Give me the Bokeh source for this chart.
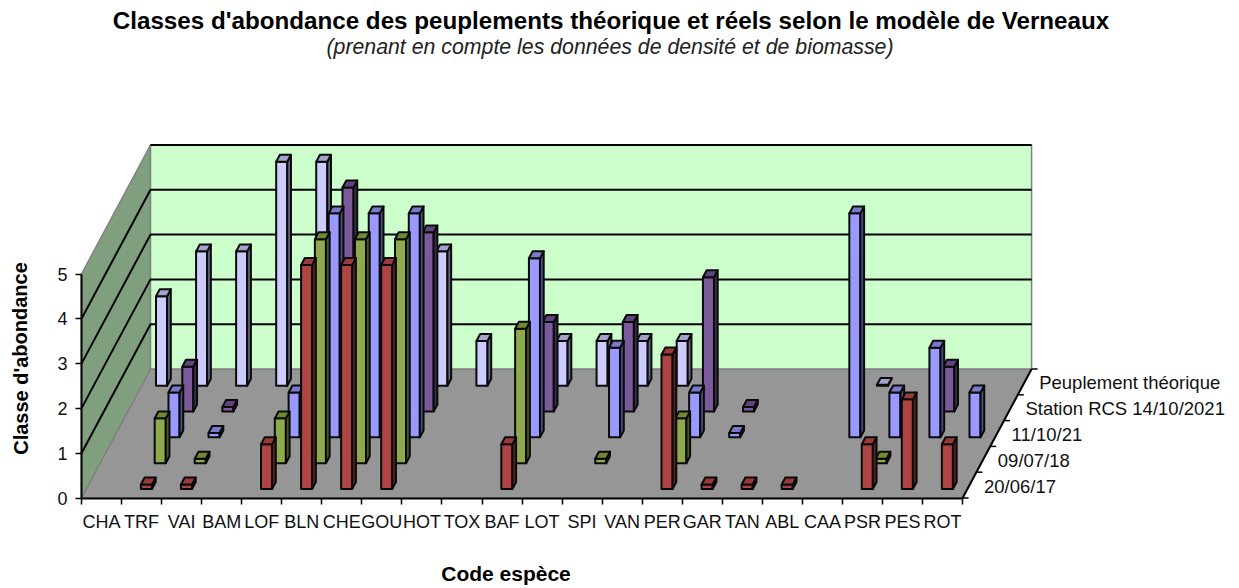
from bokeh.plotting import figure
from bokeh.models import Range1d, LinearAxis, FixedTicker, ColumnDataSource
from bokeh.embed import file_html
from bokeh.resources import INLINE
from bokeh.core.properties import value

title_text = "Classes d'abondance des peuplements théorique et réels selon le modèle de Verneaux"
subtitle_text = "(prenant en compte les données de densité et de biomasse)"
y_title = "Classe d'abondance"
x_title = "Code espèce"

categories = ["CHA", "TRF", "VAI", "BAM", "LOF", "BLN", "CHE", "GOU", "HOT", "TOX", "BAF",
              "LOT", "SPI", "VAN", "PER", "GAR", "TAN", "ABL", "CAA", "PSR", "PES", "ROT"]
series_names = ["20/06/17", "09/07/18", "11/10/21", "Station RCS 14/10/2021", "Peuplement théorique"]

s_20_06_17 = {"TRF": 0.1, "VAI": 0.1, "LOF": 1, "BLN": 5, "CHE": 5, "GOU": 5, "BAF": 1, "PER": 3,
              "GAR": 0.1, "TAN": 0.1, "ABL": 0.1, "PSR": 1, "PES": 2, "ROT": 1}
s_09_07_18 = {"TRF": 1, "VAI": 0.1, "LOF": 1, "BLN": 5, "CHE": 5, "GOU": 5, "BAF": 3, "SPI": 0.1,
              "PER": 1, "PSR": 0.1}
s_11_10_21 = {"TRF": 1, "VAI": 0.1, "LOF": 1, "BLN": 5, "CHE": 5, "GOU": 5, "BAF": 4, "SPI": 2,
              "PER": 1, "GAR": 0.1, "CAA": 5, "PSR": 1, "PES": 2, "ROT": 1}
s_station = {"TRF": 1, "VAI": 0.1, "BLN": 5, "GOU": 4, "BAF": 2, "SPI": 2, "PER": 3, "GAR": 0.1, "PES": 1}
s_theorique = {"CHA": 2, "TRF": 3, "VAI": 3, "BAM": 5, "LOF": 5, "GOU": 3, "HOT": 1, "BAF": 1, "LOT": 1,
               "SPI": 1, "VAN": 1, "CAA": 0.02}
all_series = [s_20_06_17, s_09_07_18, s_11_10_21, s_station, s_theorique]

# fill colours: front, top, side
face_colors = [("#AE4444", "#9A3A3A", "#5A2222"),
               ("#8FAA4E", "#6F8A33", "#4C5A28"),
               ("#9999FF", "#7A7ACC", "#4D4D80"),
               ("#7B5A9B", "#5F4580", "#3D2D4E"),
               ("#CCCCFF", "#A3A3CC", "#666680")]

# projection of the 3-D chart box on the page (page pixels)
X0, Y0 = 81.0, 497.5       # front-left corner of the floor
CAT_W = 40.05              # one category along the front edge
DEP_X, DEP_Y = 13.8, 25.8  # one series along the depth
VAL_H = 44.8               # one abundance class
N_CAT, N_SER, N_VAL = len(categories), len(series_names), 5
BAR_HALF = 0.138           # half bar width, in categories
BAR_D0, BAR_D1 = 0.35, 0.62  # bar front and back, in series
W, H = 1239, 588


def proj(c, d, v):
    return X0 + CAT_W * c + DEP_X * d, Y0 - DEP_Y * d - VAL_H * v


p = figure(width=W, height=H, x_range=Range1d(0, W), y_range=Range1d(H, 0),
           x_axis_type=None, y_axis_type=None, output_backend="svg", toolbar_location=None,
           min_border=0, outline_line_color=None, background_fill_color="white")
p.grid.visible = False


def wall(corners, fill):
    xs, ys = zip(*[proj(*c) for c in corners])
    p.patch(list(xs), list(ys), fill_color=fill, line_color="#808080", line_width=1.5)


wall([(0, 0, 0), (N_CAT, 0, 0), (N_CAT, N_SER, 0), (0, N_SER, 0)], "#969696")
wall([(0, 0, 0), (0, N_SER, 0), (0, N_SER, N_VAL), (0, 0, N_VAL)], "#7F9F7F")
wall([(0, N_SER, 0), (N_CAT, N_SER, 0), (N_CAT, N_SER, N_VAL), (0, N_SER, N_VAL)], "#CCFFCC")

# gridlines on both walls
grid_xs, grid_ys = [], []
for k in range(1, N_VAL + 1):
    pts = [proj(0, 0, k), proj(0, N_SER, k), proj(N_CAT, N_SER, k)]
    if k == N_VAL:
        pts = pts[1:]
    grid_xs.append([q[0] for q in pts])
    grid_ys.append([q[1] for q in pts])
p.multi_line(grid_xs, grid_ys, line_color="black", line_width=2)

# bars, from the back series to the front one
for s in range(N_SER - 1, -1, -1):
    front, top, side = face_colors[s]
    xs, ys, fills = [], [], []
    for i, cat in enumerate(categories):
        if cat not in all_series[s]:
            continue
        v = all_series[s][cat]
        l, r = i + 0.5 - BAR_HALF, i + 0.5 + BAR_HALF
        d0, d1 = s + BAR_D0, s + BAR_D1
        faces = [([(l, d0, 0), (r, d0, 0), (r, d0, v), (l, d0, v)], front),
                 ([(r, d0, 0), (r, d1, 0), (r, d1, v), (r, d0, v)], side),
                 ([(l, d0, v), (r, d0, v), (r, d1, v), (l, d1, v)], top)]
        for corners, fill in faces:
            q = [proj(*c) for c in corners]
            xs.append([a[0] for a in q])
            ys.append([a[1] for a in q])
            fills.append(fill)
    src = ColumnDataSource(dict(xs=xs, ys=ys, fill=fills))
    p.patches("xs", "ys", source=src, fill_color="fill", line_color="#0A0A0A",
              line_width=2, line_join="round")

FONT = "Liberation Sans"

# value axis, on the front-left vertical edge
p.extra_y_ranges["val"] = Range1d((Y0 - H) / VAL_H, Y0 / VAL_H)
val_axis = LinearAxis(y_range_name="val", fixed_location=X0, bounds=(0, N_VAL),
                      ticker=FixedTicker(ticks=list(range(N_VAL + 1))),
                      axis_line_color="black", axis_line_width=2,
                      major_tick_line_color="black", major_tick_line_width=1.5,
                      major_tick_in=0, major_tick_out=6, minor_tick_line_color=None,
                      major_label_text_font=FONT, major_label_text_font_size="18px",
                      major_label_text_color="#111111", major_label_standoff=8)
p.add_layout(val_axis, "left")

# category axis, on the front edge of the floor; labels sit between the tick marks
p.extra_x_ranges["cat"] = Range1d(-X0 / CAT_W, (W - X0) / CAT_W)
label_pos = [i + 0.5 for i in range(N_CAT)]
cat_axis = LinearAxis(x_range_name="cat", fixed_location=Y0, bounds=(0, N_CAT),
                      ticker=FixedTicker(ticks=label_pos, minor_ticks=list(range(N_CAT + 1))),
                      major_label_overrides={q: c for q, c in zip(label_pos, categories)},
                      axis_line_color="black", axis_line_width=2,
                      major_tick_line_color=None, major_tick_in=0, major_tick_out=5,
                      minor_tick_line_color="black", minor_tick_line_width=1.5,
                      minor_tick_in=0, minor_tick_out=6,
                      major_label_text_font=FONT, major_label_text_font_size="18px",
                      major_label_text_color="#111111", major_label_standoff=8)
p.add_layout(cat_axis, "below")

# series axis, on the right edge of the floor
a, b = proj(N_CAT, 0, 0), proj(N_CAT, N_SER, 0)
p.line([a[0], b[0]], [a[1], b[1]], line_color="black", line_width=2)
tx, ty = [], []
for d in range(N_SER + 1):
    q = proj(N_CAT, d, 0)
    tx.append([q[0], q[0] + 6])
    ty.append([q[1], q[1]])
p.multi_line(tx, ty, line_color="black", line_width=1.5)
lab = [proj(N_CAT, s + 0.5, 0) for s in range(N_SER)]
p.text([q[0] + 14.5 for q in lab], [q[1] + 1 for q in lab], text=series_names,
       text_font=value(FONT), text_font_size="18.5px", text_color="#111111",
       text_align="left", text_baseline="middle")

# titles
p.text([610.5], [20], text=[title_text], text_font=value(FONT), text_font_size="24.2px",
       text_font_style="bold", text_color="black", text_align="center", text_baseline="middle")
p.text([609.5], [46], text=[subtitle_text], text_font=value(FONT), text_font_size="21.3px",
       text_font_style="italic", text_color="#222222", text_align="center", text_baseline="middle")
p.text([505.5], [573], text=[x_title], text_font=value(FONT), text_font_size="21px",
       text_font_style="bold", text_color="black", text_align="center", text_baseline="middle")
p.text([20], [358], text=[y_title], angle=[1.5708], text_font=value(FONT), text_font_size="20px",
       text_font_style="bold", text_color="black", text_align="center", text_baseline="middle")

open("out.html", "w").write(file_html(p, INLINE))
